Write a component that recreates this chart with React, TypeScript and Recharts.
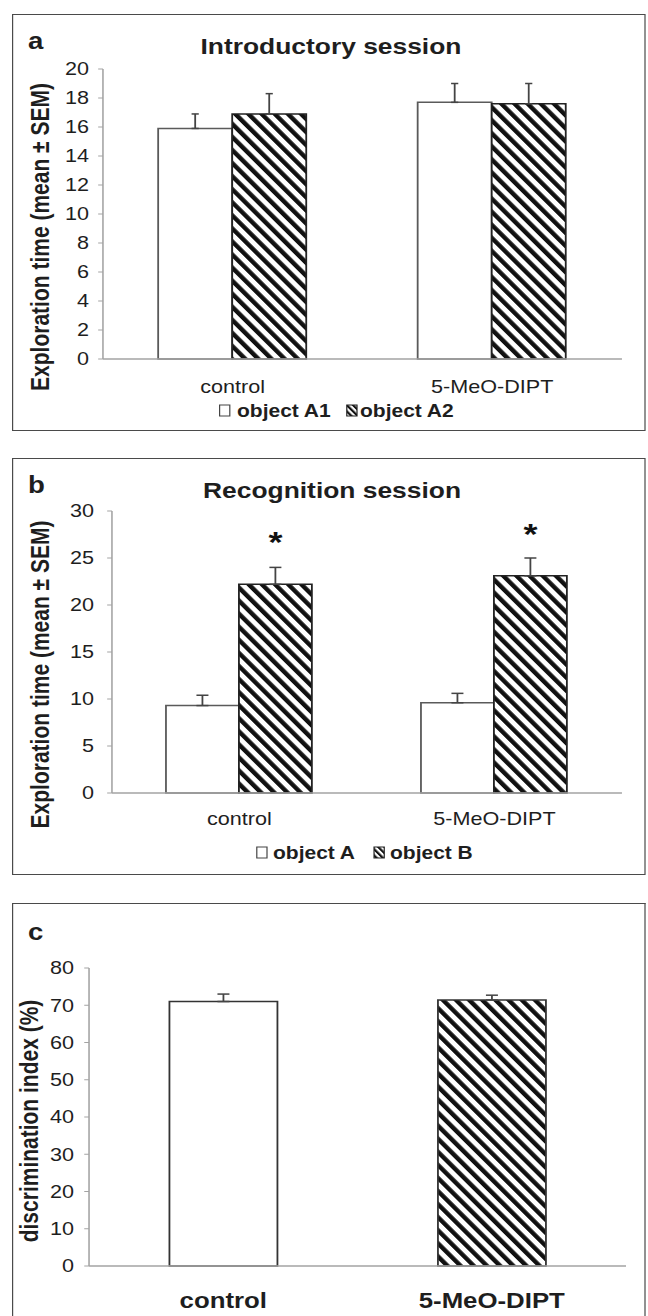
import { BarChart, Bar, XAxis, YAxis, ErrorBar, Cell, LabelList } from "recharts";

const FONT = "'Liberation Sans', Arial, sans-serif";
const AXIS = "#a3a3a3";
const INK = "#1e1e1e";

const groups = ["control", "5-MeO-DIPT"];

// a: introductory session
const introA1 = [15.9, 17.7];
const introA1Sem = [1.0, 1.3];
const introA2 = [16.9, 17.6];
const introA2Sem = [1.4, 1.4];
const introTicks = [0, 2, 4, 6, 8, 10, 12, 14, 16, 18, 20];

// b: recognition session
const recogA = [9.3, 9.6];
const recogASem = [1.1, 1.0];
const recogB = [22.2, 23.1];
const recogBSem = [1.8, 1.9];
const recogStars = ["*", "*"];
const recogTicks = [0, 5, 10, 15, 20, 25, 30];

// c: discrimination index
const discIndex = [71.0, 71.4];
const discSem = [2.0, 1.3];
const discTicks = [0, 10, 20, 30, 40, 50, 60, 70, 80];

const introData = groups.map((g, i) => ({
  group: g,
  a1: introA1[i],
  a1Err: [0, introA1Sem[i]],
  a2: introA2[i],
  a2Err: [0, introA2Sem[i]],
}));

const recogData = groups.map((g, i) => ({
  group: g,
  a: recogA[i],
  aErr: [0, recogASem[i]],
  b: recogB[i],
  bErr: [0, recogBSem[i]],
  star: recogStars[i],
}));

const discData = groups.map((g, i) => ({
  group: g,
  di: discIndex[i],
  diErr: [0, discSem[i]],
}));

// the reference image is stretched sideways, so draw narrower and scale x
const STRETCH = 1.2;
const W = 540;

const hatch = (id: string, p = 8.4, w = 4) => (
  <defs>
    <pattern id={id} patternUnits="userSpaceOnUse" width={p} height={p} patternTransform="rotate(-40)">
      <rect width={p} height={p} fill="#fff" />
      <rect width={w} height={p} fill="#111" />
    </pattern>
  </defs>
);

const yLabel = (text: string, x: number, y: number) => () => (
  <text
    x={x}
    y={y}
    transform={`rotate(-90, ${x}, ${y})`}
    textAnchor="middle"
    fontSize={21}
    fontWeight={700}
    fill={INK}
    fontFamily={FONT}
  >
    {text}
  </text>
);

const tickStyle = { fontSize: 18, fill: INK, fontFamily: FONT };

const box = (top: number, height: number, noBottom = false): React.CSSProperties => ({
  position: "absolute",
  left: 10,
  top,
  width: 528,
  height,
  boxSizing: "border-box",
  border: "1.5px solid #4a4a4a",
  borderBottom: noBottom ? "none" : "1.5px solid #4a4a4a",
  background: "#fff",
});

export default function App() {
  return (
    <div
      style={{
        position: "absolute",
        left: 0,
        top: 0,
        width: W,
        height: 1316,
        overflow: "hidden",
        transform: `scaleX(${STRETCH})`,
        transformOrigin: "0 0",
        fontFamily: FONT,
        background: "#fff",
      }}
    >
      <div style={box(14, 417)} />
      <div style={box(458, 417)} />
      <div style={box(903, 420, true)} />

      {/* a */}
      <div style={{ position: "absolute", left: 0, top: 14 }}>
        <BarChart width={W} height={417} data={introData} barGap={0} margin={{ top: 55, right: 21.7, bottom: 70, left: 0 }}>
          {hatch("hatchA")}
          <XAxis xAxisId="sep" type="number" domain={[0, 2]} allowDataOverflow ticks={[0, 1, 2]} tick={false} axisLine={false} tickLine={{ stroke: AXIS }} tickSize={5} height={1} />
          <XAxis xAxisId="cat" dataKey="group" interval={0} axisLine={{ stroke: AXIS, strokeWidth: 1.3 }} tickLine={false} tickSize={0} tickMargin={21} height={1} tick={tickStyle} />
          <YAxis domain={[0, 20]} ticks={introTicks} interval={0} width={85.8} axisLine={{ stroke: AXIS, strokeWidth: 1.3 }} tickLine={{ stroke: AXIS }} tickSize={4} tickMargin={7.6} tick={tickStyle} label={{ content: yLabel("Exploration time (mean ± SEM)", 40.6, 223) }} />
          <Bar xAxisId="cat" dataKey="a1" fill="#fff" stroke="#5a5a5a" strokeWidth={1.5} barSize={61.7} isAnimationActive={false}>
            <ErrorBar dataKey="a1Err" direction="y" width={3} stroke="#444" strokeWidth={1.5} />
          </Bar>
          <Bar xAxisId="cat" dataKey="a2" fill="url(#hatchA)" stroke="#222" strokeWidth={1.5} barSize={61.7} isAnimationActive={false}>
            <ErrorBar dataKey="a2Err" direction="y" width={3} stroke="#444" strokeWidth={1.5} />
          </Bar>
        </BarChart>
      </div>

      {/* b */}
      <div style={{ position: "absolute", left: 0, top: 458 }}>
        <BarChart width={W} height={417} data={recogData} barGap={0} margin={{ top: 53, right: 21.7, bottom: 80, left: 0 }}>
          {hatch("hatchB")}
          <XAxis xAxisId="sep" type="number" domain={[0, 2]} allowDataOverflow ticks={[0, 1, 2]} tick={false} axisLine={false} tickLine={{ stroke: AXIS }} tickSize={5} height={1} />
          <XAxis xAxisId="cat" dataKey="group" interval={0} axisLine={{ stroke: AXIS, strokeWidth: 1.3 }} tickLine={false} tickSize={0} tickMargin={19} height={1} tick={tickStyle} />
          <YAxis domain={[0, 30]} ticks={recogTicks} interval={0} width={93.3} axisLine={{ stroke: AXIS, strokeWidth: 1.3 }} tickLine={{ stroke: AXIS }} tickSize={4} tickMargin={11} tick={tickStyle} label={{ content: yLabel("Exploration time (mean ± SEM)", 40.6, 216.5) }} />
          <Bar xAxisId="cat" dataKey="a" fill="#fff" stroke="#5a5a5a" strokeWidth={1.5} barSize={60.8} isAnimationActive={false}>
            <ErrorBar dataKey="aErr" direction="y" width={5} stroke="#444" strokeWidth={1.5} />
          </Bar>
          <Bar xAxisId="cat" dataKey="b" fill="url(#hatchB)" stroke="#222" strokeWidth={1.5} barSize={60.8} isAnimationActive={false}>
            <ErrorBar dataKey="bErr" direction="y" width={5} stroke="#444" strokeWidth={1.5} />
            <LabelList dataKey="star" position="top" offset={32} fill="#111" fontSize={30} fontWeight={700} fontFamily={FONT} />
          </Bar>
        </BarChart>
      </div>

      {/* c */}
      <div style={{ position: "absolute", left: 0, top: 903 }}>
        <BarChart width={W} height={413} data={discData} margin={{ top: 65, right: 18.3, bottom: 48, left: 0 }}>
          {hatch("hatchC")}
          <XAxis xAxisId="sep" type="number" domain={[0, 2]} allowDataOverflow ticks={[0, 1, 2]} tick={false} axisLine={false} tickLine={{ stroke: AXIS }} tickSize={5} height={1} />
          <XAxis xAxisId="cat" dataKey="group" interval={0} axisLine={{ stroke: AXIS, strokeWidth: 1.3 }} tickLine={false} tickSize={0} tickMargin={27} height={1} tick={{ ...tickStyle, fontSize: 21.5, fontWeight: 700 }} />
          <YAxis domain={[0, 80]} ticks={discTicks} interval={0} width={74.2} axisLine={{ stroke: AXIS, strokeWidth: 1.3 }} tickLine={{ stroke: AXIS }} tickSize={4} tickMargin={8.5} tick={tickStyle} label={{ content: yLabel("discrimination index (%)", 31.4, 218) }} />
          <Bar xAxisId="cat" dataKey="di" stroke="#333" strokeWidth={1.5} barSize={90} isAnimationActive={false}>
            <Cell fill="#fff" />
            <Cell fill="url(#hatchC)" />
            <ErrorBar dataKey="diErr" direction="y" width={5} stroke="#444" strokeWidth={1.5} />
          </Bar>
        </BarChart>
      </div>

      {/* panel letters, titles, legends */}
      <svg width={W} height={1316} style={{ position: "absolute", left: 0, top: 0, pointerEvents: "none" }}>
        {hatch("hatchLeg", 4, 2)}
        <g fontFamily={FONT} fill={INK} fontWeight={700}>
          <text x={23.3} y={49} fontSize={23}>a</text>
          <text x={275.8} y={54} fontSize={22} textAnchor="middle">Introductory session</text>
          <text x={23.3} y={493} fontSize={23}>b</text>
          <text x={276.7} y={498} fontSize={22} textAnchor="middle">Recognition session</text>
          <text x={23.3} y={940} fontSize={23}>c</text>

          <rect x={183} y={405} width={8.5} height={11} fill="#fff" stroke="#444" strokeWidth={1} />
          <text x={197.5} y={417} fontSize={17.5}>object A1</text>
          <rect x={289} y={405} width={8.5} height={11} fill="url(#hatchLeg)" stroke="#222" strokeWidth={1} />
          <text x={300} y={417} fontSize={17.5}>object A2</text>

          <rect x={214} y={847} width={8.5} height={11} fill="#fff" stroke="#444" strokeWidth={1} />
          <text x={227.5} y={859} fontSize={17.5}>object A</text>
          <rect x={311.7} y={847} width={8.5} height={11} fill="url(#hatchLeg)" stroke="#222" strokeWidth={1} />
          <text x={325} y={859} fontSize={17.5}>object B</text>
        </g>
      </svg>
    </div>
  );
}
